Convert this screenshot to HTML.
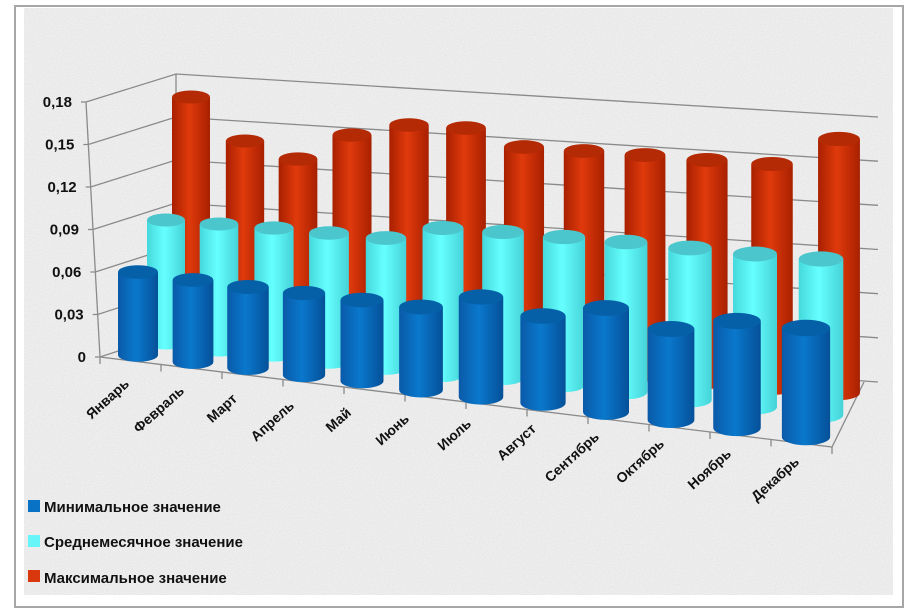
<!DOCTYPE html>
<html><head><meta charset="utf-8"><style>
html,body{margin:0;padding:0;background:#fff;}
svg{display:block;}
</style></head><body>
<svg id="s" width="916" height="612" viewBox="0 0 916 612" xmlns="http://www.w3.org/2000/svg" font-family="'Liberation Sans', 'DejaVu Sans', sans-serif">
<defs>
<filter id="noise" x="0" y="0" width="100%" height="100%">
<feTurbulence type="fractalNoise" baseFrequency="0.9" numOctaves="2" seed="3"/>
<feColorMatrix type="matrix" values="0 0 0 0 0.55  0 0 0 0 0.55  0 0 0 0 0.55  0 0 0 -1.6 0.9"/>
</filter>
<linearGradient id="gr" x1="0" x2="1"><stop offset="0" stop-color="#a82000"/><stop offset="0.45" stop-color="#e03a0c"/><stop offset="1" stop-color="#a82000"/></linearGradient>
<linearGradient id="gc" x1="0" x2="1"><stop offset="0" stop-color="#45d8dc"/><stop offset="0.45" stop-color="#66ffff"/><stop offset="1" stop-color="#45d2d8"/></linearGradient>
<linearGradient id="gb" x1="0" x2="1"><stop offset="0" stop-color="#0a5aa8"/><stop offset="0.45" stop-color="#0a78cc"/><stop offset="1" stop-color="#055098"/></linearGradient>
</defs>
<rect x="15" y="6" width="888" height="601" fill="#fff" stroke="#a6a6a6" stroke-width="2"/>
<rect x="24" y="8" width="869" height="587" fill="#eeeeee"/>
<rect x="24" y="8" width="869" height="587" filter="url(#noise)" opacity="0.45"/>
<g id="grid" stroke="#8a8a8a" stroke-width="1.3" fill="none"></g>
<g id="bars"></g>
<g id="lab" font-weight="bold" font-size="14" fill="#111"></g>
<g font-weight="bold" font-size="15" fill="#111">
<rect x="28" y="500" width="12" height="12" fill="#0a72c4"/>
<text x="44" y="512">Минимальное значение</text>
<rect x="28" y="535" width="12" height="12" fill="#66f5f8"/>
<text x="44" y="547">Среднемесячное значение</text>
<rect x="28" y="570" width="12" height="12" fill="#d9380e"/>
<text x="44" y="583">Максимальное значение</text>
</g>
</svg>
<script>
var NS="http://www.w3.org/2000/svg";
function el(p,t,a,txt){var e=document.createElementNS(NS,t);for(var k in a)e.setAttribute(k,a[k]);if(txt)e.textContent=txt;p.appendChild(e);return e;}
var g=document.getElementById('grid');
var labs=["0","0,03","0,06","0,09","0,12","0,15","0,18"];
for(var i=0;i<=6;i++){var f=i/6;
 var fx=100-14*f, fy=357-255*f, bx=176, by=332-258*f, rx=878, ry=382-265*f;
 el(g,'polyline',{points:(fx-5)+','+(fy)+' '+fx+','+fy+' '+bx+','+by+' '+rx+','+ry});
 el(document.getElementById('lab'),'text',{x:fx-14,y:fy+5,'text-anchor':'end','font-size':'15'},labs[i]);
}
el(g,'line',{x1:100,y1:357,x2:86,y2:102});
el(g,'line',{x1:176,y1:332,x2:176,y2:74});
el(g,'polyline',{points:'100,357 832,447 864,382'});
for(var i=0;i<=12;i++){var t=i/12;var x=100+732*t,y=357+90*t;el(g,'line',{x1:x,y1:y,x2:x,y2:y+7});}
var B=document.getElementById('bars');
function cyl(cx,top,bot,w,grad,topc){var rx=w/2,ry=w*0.17;
 el(B,'path',{d:'M'+(cx-rx)+','+top+' L'+(cx-rx)+','+bot+' A'+rx+','+ry+' 0 0 0 '+(cx+rx)+','+bot+' L'+(cx+rx)+','+top+' Z',fill:'url(#'+grad+')'});
 el(B,'ellipse',{cx:cx,cy:top,rx:rx,ry:ry,fill:topc});}
var red=[[191,97,330],[245,141,337],[298,159,343],[352,135,349],[409,125,355],[466,128,357],[524,147,360],[584,151,368],[645,155,375],[707,160,382],[772,164,388],[839,139,393]];
var cyan=[[166,220,343],[219,224,350],[274,228,355],[329,233,362],[386,238,368],[443,228,375],[503,232,378],[564,237,385],[626,242,392],[690,248,400],[755,254,407],[821,259,415]];
var blue=[[138,272,355],[193,280,362],[248,287,368],[304,293,375],[362,300,381],[421,307,390],[481,297,397],[543,316,403],[606,308,412],[671,329,420],[737,321,428],[806,328,437]];
red.forEach(function(d,i){cyl(d[0],d[1],d[2],38+i*0.35,'gr','#b32a05');});
cyan.forEach(function(d,i){cyl(d[0],d[1],d[2],38+i*0.6,'gc','#4ac6cc');});
blue.forEach(function(d,i){cyl(d[0],d[1],d[2],40+i*0.75,'gb','#0560a8');});
var m=["Январь","Февраль","Март","Апрель","Май","Июнь","Июль","Август","Сентябрь","Октябрь","Ноябрь","Декабрь"];
var L=document.getElementById('lab');
var ends=[[130,385],[185,392],[238,400],[295,407],[352,414],[410,420],[472,425],[537,430],[600,438],[665,445],[732,455],[800,463]];
m.forEach(function(s,i){var x=ends[i][0],y=ends[i][1];el(L,'text',{x:x,y:y,'text-anchor':'end',transform:'rotate(-42 '+x+' '+y+')'},s);});
</script>
</body></html>
